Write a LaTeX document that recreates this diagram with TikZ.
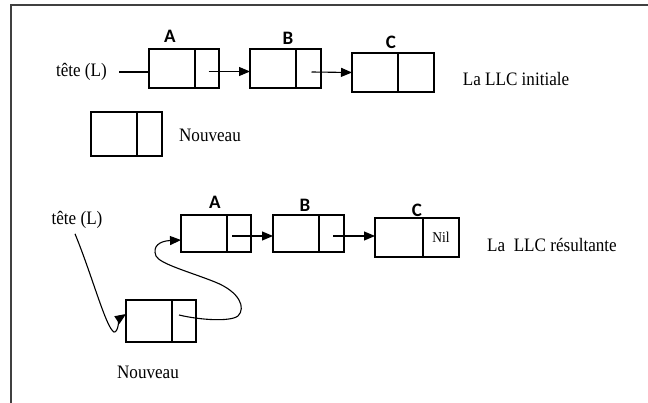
\documentclass[tikz,border=0pt]{standalone}
\usepackage{fontspec}
\setmainfont{Liberation Serif}[FakeStretch=0.9]
\newfontfamily\etiq{Carlito}
\usetikzlibrary{arrows.meta}

\begin{document}
\begin{tikzpicture}[x=1pt,y=-1pt,
        donnee/.style={draw, line width=1.2pt, minimum width=46pt, inner sep=0pt, outer sep=0pt},
        lien/.style={draw, line width=1.2pt, inner sep=0pt, outer sep=0pt},
        fleche/.style={-{Triangle[length=11pt,width=9pt]}, line width=1.1pt},
        texte/.style={font=\fontsize{19}{22}\selectfont, inner sep=2pt},
        etiquette/.style={font=\etiq\bfseries\fontsize{19}{21}\selectfont, inner sep=0pt},
        cadre/.style={line width=1.5pt, black!75}]
        \useasboundingbox (0,0) rectangle (648,403);
        \draw[cadre] (11,403) -- (11,5) -- (648,5);

        % la LLC initiale
        \node[donnee, minimum height=39pt, anchor=north west] (A1d) at (149,49) {};
        \node[lien, minimum width=24pt, minimum height=39pt, anchor=west] (A1p) at (A1d.east) {};
        \node[donnee, minimum height=39pt, anchor=north west] (B1d) at (250,49) {};
        \node[lien, minimum width=25pt, minimum height=39pt, anchor=west] (B1p) at (B1d.east) {};
        \node[donnee, minimum height=39pt, anchor=north west] (C1d) at (352,53) {};
        \node[lien, minimum width=36pt, minimum height=39pt, anchor=west] (C1p) at (C1d.east) {};
        \node[etiquette] (lA1) at (170,36) {A};
        \node[etiquette] (lB1) at (288,38) {B};
        \node[etiquette] (lC1) at (391,42) {C};
        \node[texte, anchor=east] (tete1) at (109,72) {tête (L)};
        \node[texte] (init) at (516,79) {La LLC initiale};
        \draw[line width=1.2pt] ([xshift=10pt]tete1.east) -- ([yshift=-3.5pt]A1d.west);
        \draw[fleche] ([xshift=1.5pt,yshift=-3pt]A1p.center) -- ([yshift=-3pt]B1d.west);
        \draw[fleche] ([xshift=3pt,yshift=-3.5pt]B1p.center) -- (C1d.west);

        % le nouveau maillon
        \node[donnee, minimum height=44pt, anchor=north west] (N1d) at (91,112) {};
        \node[lien, minimum width=25pt, minimum height=44pt, anchor=west] (N1p) at (N1d.east) {};
        \node[texte] (nouv1) at (210,135) {Nouveau};

        % la LLC resultante
        \node[donnee, minimum height=37pt, anchor=north west] (A2d) at (181,215) {};
        \node[lien, minimum width=24pt, minimum height=37pt, anchor=west] (A2p) at (A2d.east) {};
        \node[donnee, minimum height=37pt, anchor=north west] (B2d) at (273,215) {};
        \node[lien, minimum width=25pt, minimum height=37pt, anchor=west] (B2p) at (B2d.east) {};
        \node[donnee, minimum width=48pt, minimum height=39pt, anchor=north west] (C2d) at (375,218) {};
        \node[lien, minimum width=36pt, minimum height=39pt, anchor=west, font=\fontsize{15}{17}\selectfont] (C2p) at (C2d.east) {Nil};
        \node[etiquette] (lA2) at (215,202) {A};
        \node[etiquette] (lB2) at (305,205) {B};
        \node[etiquette] (lC2) at (417,210) {C};
        \node[texte] (tete2) at (77,220) {tête (L)};
        \node[texte] (result) at (552,245) {La\ \ LLC résultante};
        \node[donnee, minimum height=42pt, anchor=north west] (N2d) at (126,300) {};
        \node[lien, minimum width=24pt, minimum height=42pt, anchor=west] (N2p) at (N2d.east) {};
        \node[texte] (nouv2) at (148,372) {Nouveau};
        \draw[fleche] ([xshift=-7pt,yshift=-2.5pt]A2p.center) -- ([yshift=-2.5pt]B2d.west);
        \draw[fleche] ([xshift=1.5pt,yshift=-2.5pt]B2p.center) -- ([yshift=1.5pt]C2d.west);
        \draw[fleche] ([xshift=-2pt,yshift=-3pt]tete2.south) .. controls (92,275) and (106,328) .. (114,332)
            .. controls (118,333) and (120,318) .. ([yshift=7pt]N2d.west);
        \draw[fleche] ([xshift=-5pt,yshift=6pt]N2p.center) .. controls (200,320) and (230,322) .. (238,316)
            .. controls (246,308) and (240,292) .. (215,282)
            .. controls (190,272) and (160,264) .. (156,256)
            .. controls (152,246) and (160,241) .. ([yshift=-6.5pt]A2d.west);
      \end{tikzpicture}
\end{document}
